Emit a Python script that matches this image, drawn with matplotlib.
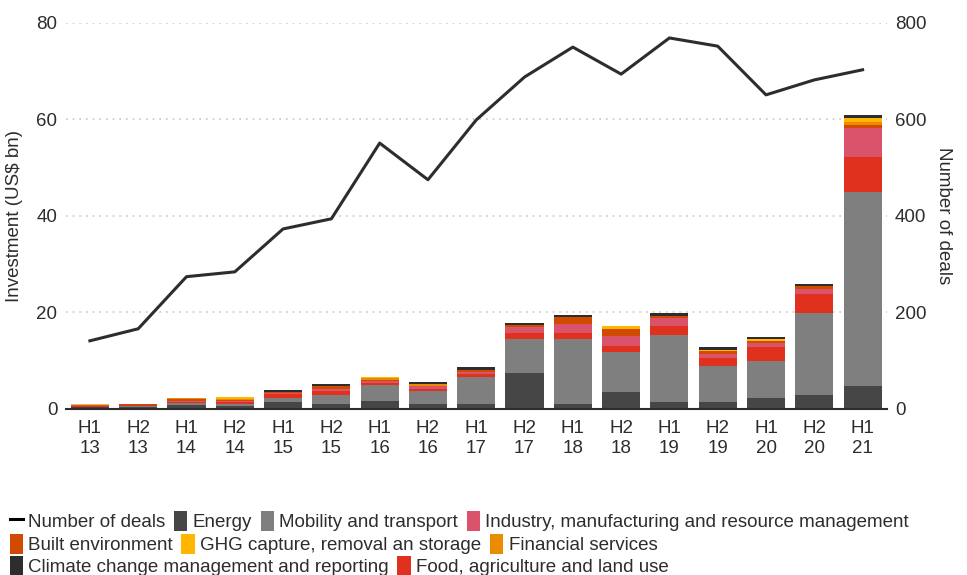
import matplotlib
matplotlib.use('Agg')
import matplotlib.pyplot as plt
from matplotlib.patches import Patch
from matplotlib.lines import Line2D
import numpy as np

plt.rcParams['font.family'] = ['Liberation Sans', 'DejaVu Sans']

periods = ['H1\n13', 'H2\n13', 'H1\n14', 'H2\n14', 'H1\n15', 'H2\n15', 'H1\n16', 'H2\n16', 'H1\n17',
           'H2\n17', 'H1\n18', 'H2\n18', 'H1\n19', 'H2\n19', 'H1\n20', 'H2\n20', 'H1\n21']

# investment by sector (US$ bn)
energy = [0.3, 0.4, 0.8, 0.5, 1.45, 1.1, 1.7, 1.1, 1.1, 7.5, 1.0, 3.5, 1.45, 1.45, 2.3, 2.9, 4.7]
mobility = [0.1, 0.1, 0.4, 0.6, 0.85, 1.85, 3.2, 2.5, 5.6, 7.0, 13.5, 8.3, 13.85, 7.45, 7.65, 17.0, 40.3]
food = [0.2, 0.2, 0.3, 0.3, 0.7, 0.7, 0.4, 0.6, 0.45, 1.25, 1.25, 1.25, 1.85, 1.65, 2.9, 3.9, 7.3]
industry = [0.15, 0.1, 0.2, 0.3, 0.35, 0.55, 0.55, 0.55, 0.5, 1.25, 1.85, 2.05, 1.65, 0.85, 0.85, 1.05, 6.0]
built = [0.05, 0.1, 0.3, 0.2, 0.1, 0.6, 0.2, 0.0, 0.4, 0.4, 1.45, 1.45, 0.4, 0.6, 0.4, 0.6, 0.6]
financial = [0.05, 0.1, 0.15, 0.15, 0.0, 0.0, 0.25, 0.45, 0.0, 0.0, 0.0, 0.0, 0.0, 0.0, 0.0, 0.0, 0.6]
ghg = [0.05, 0.1, 0.15, 0.3, 0.0, 0.0, 0.2, 0.0, 0.0, 0.0, 0.0, 0.6, 0.0, 0.2, 0.4, 0.0, 0.8]
climate = [0.0, 0.0, 0.0, 0.0, 0.4, 0.45, 0.0, 0.4, 0.6, 0.4, 0.4, 0.0, 0.65, 0.6, 0.4, 0.4, 0.6]

deals = [141, 166, 274, 284, 373, 394, 551, 475, 599, 688, 750, 694, 769, 752, 651, 682, 703]

sectors = [
    ('Energy', energy, '#464646'),
    ('Mobility and transport', mobility, '#7f7f7f'),
    ('Food, agriculture and land use', food, '#e0301e'),
    ('Industry, manufacturing and resource management', industry, '#db536a'),
    ('Built environment', built, '#d04a02'),
    ('Financial services', financial, '#eb8c00'),
    ('GHG capture, removal an storage', ghg, '#ffb600'),
    ('Climate change management and reporting', climate, '#2d2d2d'),
]
colors = {name: c for name, _, c in sectors}

fig = plt.figure(figsize=(9.67, 5.75), dpi=100)
ax = fig.add_axes([0.068, 0.289, 0.849, 0.671])
x = np.arange(len(periods))

bottom = np.zeros(len(periods))
for name, vals, c in sectors:
    ax.bar(x, vals, width=0.79, bottom=bottom, color=c, zorder=2)
    bottom += np.array(vals)

ax.set_xlim(-0.5, len(periods) - 0.5)
ax.set_ylim(0, 80)
ax.set_yticks([0, 20, 40, 60, 80])
ax.set_xticks(x)
ax.set_xticklabels(periods)
ax.yaxis.grid(True, linestyle=(0, (1, 3)), color='#c8c8c8', linewidth=1.2, zorder=0)
for s in ['top', 'left', 'right']:
    ax.spines[s].set_visible(False)
ax.spines['bottom'].set_color('#2d2d2d')
ax.spines['bottom'].set_linewidth(1.5)
ax.tick_params(length=0, labelsize=13.5, colors='#2d2d2d', pad=6)
ax.tick_params(axis='x', pad=8)
ax.set_ylabel('Investment (US$ bn)', fontsize=13.5, color='#2d2d2d', labelpad=10)

ax2 = ax.twinx()
ax2.plot(x, deals, color='#2d2d2d', linewidth=2.2, zorder=3)
ax2.set_ylim(0, 800)
ax2.set_yticks([0, 200, 400, 600, 800])
for s in ['top', 'left', 'right', 'bottom']:
    ax2.spines[s].set_visible(False)
ax2.tick_params(length=0, labelsize=13.5, colors='#2d2d2d', pad=6)
ax2.set_ylabel('Number of deals', fontsize=13.5, color='#2d2d2d', rotation=270, labelpad=18)

# legend, three rows
line_h = Line2D([0], [0], color='black', linewidth=2.2)
def patch(name):
    return Patch(facecolor=colors[name], edgecolor='none')

rows = [
    ([line_h, patch('Energy'), patch('Mobility and transport'),
      patch('Industry, manufacturing and resource management')],
     ['Number of deals', 'Energy', 'Mobility and transport',
      'Industry, manufacturing and resource management']),
    ([patch('Built environment'), patch('GHG capture, removal an storage'), patch('Financial services')],
     ['Built environment', 'GHG capture, removal an storage', 'Financial services']),
    ([patch('Climate change management and reporting'), patch('Food, agriculture and land use')],
     ['Climate change management and reporting', 'Food, agriculture and land use']),
]
ys = [0.094, 0.054, 0.016]
for (handles, labels), yy in zip(rows, ys):
    leg = fig.legend(handles, labels, loc='center left', bbox_to_anchor=(0.01, yy),
                     ncol=len(labels), frameon=False, fontsize=13.5,
                     handlelength=0.7, handleheight=1.25, handletextpad=0.3,
                     columnspacing=0.45, borderpad=0, borderaxespad=0)
    for t in leg.get_texts():
        t.set_color('#2d2d2d')

fig.savefig('out.png', dpi=100)
